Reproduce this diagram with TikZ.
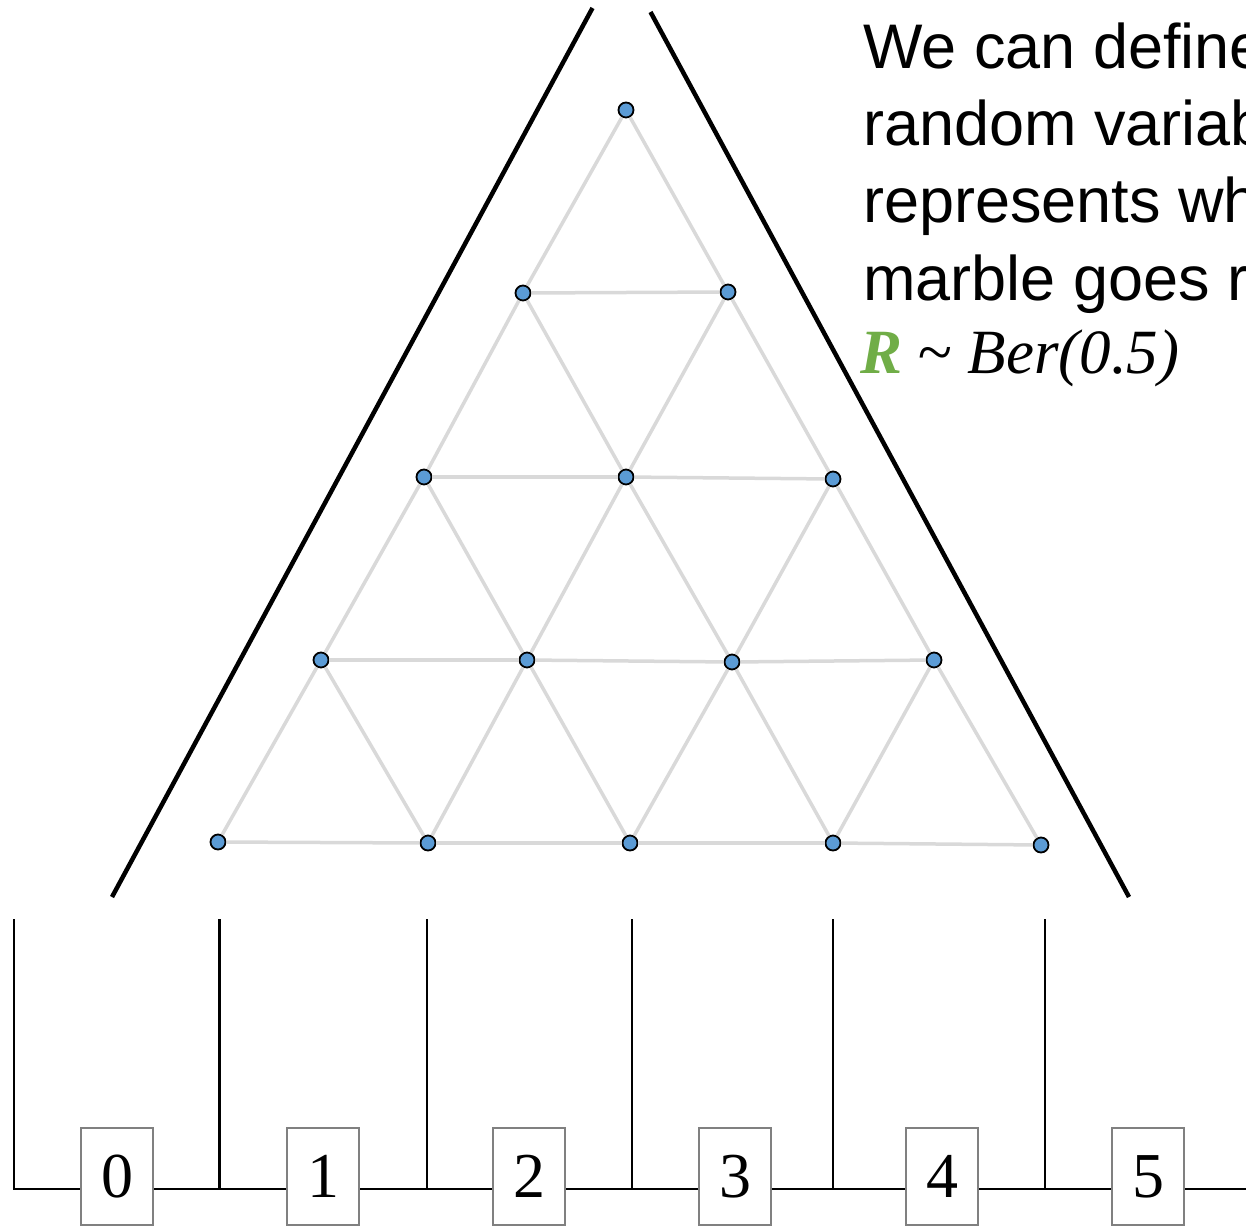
\documentclass[tikz,border=0pt]{standalone}
\usepackage{fontspec}
\setmainfont{Liberation Serif}
\newfontfamily\sansfont{Liberation Sans}
\definecolor{dotblue}{HTML}{5B9BD5}
\definecolor{edgegray}{HTML}{D9D9D9}
\definecolor{boxgray}{HTML}{808080}
\definecolor{rgreen}{HTML}{70AD47}
\begin{document}
\begin{tikzpicture}[x=1pt,y=-1pt,
  peg/.style={circle,draw=black,line width=1.8pt,fill=dotblue,minimum size=15pt,inner sep=0pt},
  latticeedge/.style={draw=edgegray,line width=3.5pt},
  wall/.style={draw=black,line width=4.5pt},
  binline/.style={draw=black,line width=2.3pt},
  binbox/.style={draw=boxgray,line width=2.3pt,fill=white,minimum width=72pt,minimum height=97pt,inner sep=0pt,font=\fontsize{64}{64}\selectfont},
  txt/.style={anchor=base west,inner sep=0pt,font=\sansfont\fontsize{63}{77}\selectfont}]
\useasboundingbox (0,0) rectangle (1246,1231);

% pegs
\node[peg] (p00) at (626,110) {};
\node[peg] (p10) at (523,293) {};
\node[peg] (p11) at (728,292) {};
\node[peg] (p20) at (424,477) {};
\node[peg] (p21) at (626,477) {};
\node[peg] (p22) at (833,479) {};
\node[peg] (p30) at (321,660) {};
\node[peg] (p31) at (527,660) {};
\node[peg] (p32) at (732,662) {};
\node[peg] (p33) at (934,660) {};
\node[peg] (p40) at (218,842) {};
\node[peg] (p41) at (428,843) {};
\node[peg] (p42) at (630,843) {};
\node[peg] (p43) at (833,843) {};
\node[peg] (p44) at (1041,845) {};

% lattice edges
\foreach \i in {0,...,3} {
  \pgfmathtruncatemacro\k{\i+1}
  \foreach \j in {0,...,\i} {
    \pgfmathtruncatemacro\jj{\j+1}
    \draw[latticeedge] (p\i\j) -- (p\k\j);
    \draw[latticeedge] (p\i\j) -- (p\k\jj);
  }
}
\foreach \i in {1,...,4} {
  \pgfmathtruncatemacro\m{\i-1}
  \foreach \j in {0,...,\m} {
    \pgfmathtruncatemacro\jj{\j+1}
    \draw[latticeedge] (p\i\j) -- (p\i\jj);
  }
}

% walls
\coordinate (wl1) at (112,897);
\coordinate (wl2) at (592.5,8);
\coordinate (wr1) at (650.5,12);
\coordinate (wr2) at (1129,897);
\draw[wall] (wl1) -- (wl2);
\draw[wall] (wr1) -- (wr2);

% bins
\coordinate (hend) at (1246,1189);
\foreach \n/\x in {0/14,1/219.5,2/427,3/632,4/833,5/1045} {
  \coordinate (vt\n) at (\x,919);
  \coordinate (vb\n) at (\x,1189);
}
\draw[binline] (vt0) -- (vb0) -- (hend);
\foreach \n in {1,...,5} {
  \draw[binline] (vt\n) -- (vb\n);
}
\foreach \n/\x in {0/117,1/323,2/529,3/735,4/942,5/1148} {
  \node[binbox] (b\n) at (\x,1176.5) {\n};
}

% text
\begin{scope}
\clip (0,0) rectangle (1246,1231);
\node[txt] (t1) at (863,68) {We can define};
\node[txt] (t2) at (863,145) {random variable};
\node[txt] (t3) at (863,222) {represents whether};
\node[txt] (t4) at (863,300) {marble goes right};
\node[anchor=base west,inner sep=0pt,font=\fontsize{63}{70}\selectfont] (t5) at (860,373)
  {{\color{rgreen}\bfseries\itshape R} \textit{\textasciitilde{} Ber(0.5)}};
\end{scope}
\end{tikzpicture}
\end{document}
